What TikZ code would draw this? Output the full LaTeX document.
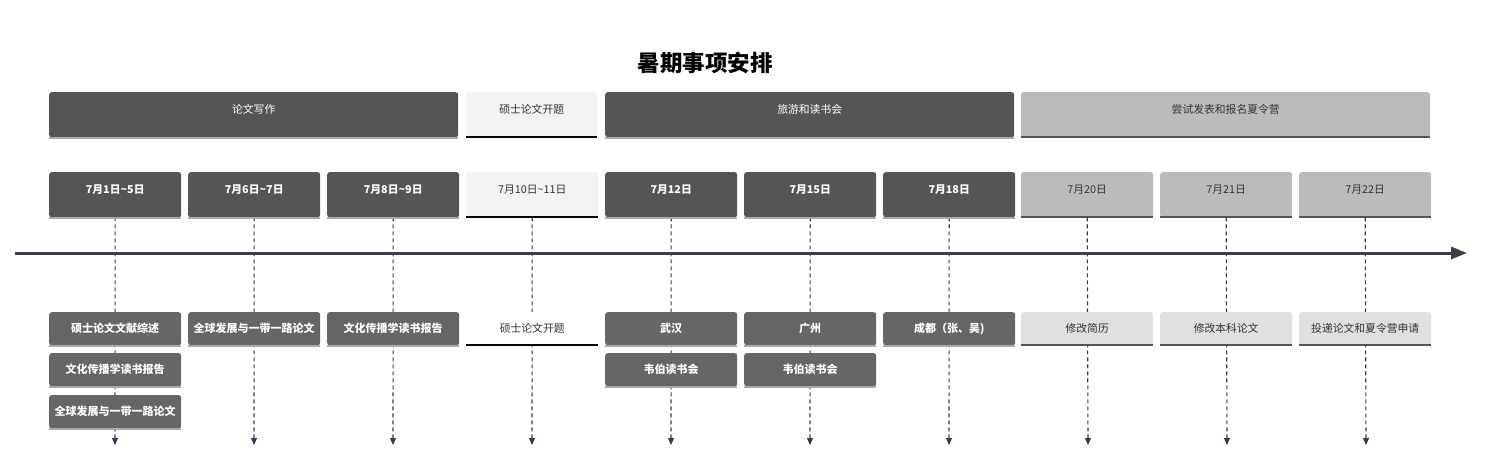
\documentclass[tikz,border=0pt]{standalone}
\usepackage{fontspec}
\setmainfont{Noto Sans CJK SC}
\usetikzlibrary{arrows.meta}
\definecolor{dk}{HTML}{555555}
\definecolor{md}{HTML}{666666}
\definecolor{gy}{HTML}{BBBBBB}
\definecolor{lt}{HTML}{F3F3F3}
\definecolor{lg}{HTML}{E0E0E0}
\definecolor{ax}{HTML}{333D4F}
\definecolor{axl}{HTML}{3A3F4A}
\definecolor{txt}{HTML}{333333}
\definecolor{shd}{HTML}{AAAAAA}
\pgfdeclarelayer{bg}
\pgfsetlayers{bg,main}
\tikzset{
  box/.style={draw=none, rounded corners=2.5pt, inner xsep=0pt, inner ysep=0pt,
    anchor=north west, font=\fontsize{10.8}{12}\selectfont},
  tall/.style={text height=21pt, text depth=24pt},
  short/.style={text height=20.5pt, text depth=12.5pt},
  wgrp/.style={box, tall, minimum width=409pt},
  wone/.style={box, minimum width=132pt},
  darkbox/.style={fill=dk, text=white},
  midbox/.style={fill=md, text=white, font=\fontsize{11}{12}\selectfont\bfseries},
  graybox/.style={fill=gy, text=txt},
  litebox/.style={fill=lt, text=txt},
  whitebox/.style={fill=white, text=txt},
  lgbox/.style={fill=lg, text=txt},
  shadowbar/.style={draw=shd, line width=2pt},
  blackbar/.style={draw=black, line width=2pt},
  greybar/.style={draw=dk, line width=2pt},
  vline/.style={draw=ax, line width=1.1pt, dash pattern=on 4pt off 3pt,
    -{Triangle[length=7pt,width=6pt]}},
  axis/.style={draw=axl, line width=3pt, -{Triangle[length=16pt,width=12pt,fill=ax]}},
  bolddate/.style={font=\fontsize{10.8}{12}\selectfont\bfseries},
}
\begin{document}
\begin{tikzpicture}[x=1pt,y=-1pt]
\useasboundingbox (0,0) rectangle (1492,464);

% title
\node[font=\fontsize{22.5}{26}\selectfont\bfseries, text=black] (title) at (705,63) {暑期事项安排};

% group row
\node[wgrp, darkbox] (g1) at (49,92) {论文写作};
\node[box, tall, minimum width=131pt, litebox] (g2) at (466,92) {硕士论文开题};
\node[wgrp, darkbox] (g3) at (605,92) {旅游和读书会};
\node[wgrp, graybox] (g4) at (1021,92) {尝试发表和报名夏令营};

% date row
\node[wone, tall, darkbox, bolddate] (d1) at (49,172) {7月1日\textasciitilde5日};
\node[wone, tall, darkbox, bolddate] (d2) at (188,172) {7月6日\textasciitilde7日};
\node[wone, tall, darkbox, bolddate] (d3) at (327,172) {7月8日\textasciitilde9日};
\node[wone, tall, litebox] (d4) at (466,172) {7月10日\textasciitilde11日};
\node[wone, tall, darkbox, bolddate] (d5) at (605,172) {7月12日};
\node[wone, tall, darkbox, bolddate] (d6) at (744,172) {7月15日};
\node[wone, tall, darkbox, bolddate] (d7) at (883,172) {7月18日};
\node[wone, tall, graybox] (d8) at (1021,172) {7月20日};
\node[wone, tall, graybox] (d9) at (1160,172) {7月21日};
\node[wone, tall, graybox] (d10) at (1299,172) {7月22日};

% task rows
\node[wone, short, midbox] (t1a) at (49,312) {硕士论文文献综述};
\node[wone, short, midbox] (t1b) at (49,353) {文化传播学读书报告};
\node[wone, short, midbox] (t1c) at (49,395) {全球发展与一带一路论文};
\node[wone, short, midbox] (t2a) at (188,312) {全球发展与一带一路论文};
\node[wone, short, midbox] (t3a) at (327,312) {文化传播学读书报告};
\node[wone, short, whitebox] (t4a) at (466,312) {硕士论文开题};
\node[wone, short, midbox] (t5a) at (605,312) {武汉};
\node[wone, short, midbox] (t5b) at (605,353) {韦伯读书会};
\node[wone, short, midbox] (t6a) at (744,312) {广州};
\node[wone, short, midbox] (t6b) at (744,353) {韦伯读书会};
\node[wone, short, midbox] (t7a) at (883,312) {成都（张、吴)};
\node[wone, short, lgbox] (t8a) at (1021,312) {修改简历};
\node[wone, short, lgbox] (t9a) at (1160,312) {修改本科论文};
\node[wone, short, lgbox] (t10a) at (1299,312) {投递论文和夏令营申请};

% bottom bars
\foreach \n in {g1,g3,d1,d2,d3,d5,d6,d7,t1a,t1b,t1c,t2a,t3a,t5a,t5b,t6a,t6b,t7a}
  \draw[shadowbar] ([yshift=-1pt]\n.south west) -- ([yshift=-1pt]\n.south east);
\foreach \n in {g2,d4,t4a}
  \draw[blackbar] (\n.south west) -- (\n.south east);
\foreach \n in {g4,d8,d9,d10,t8a,t9a,t10a}
  \draw[greybar] (\n.south west) -- (\n.south east);

% end points
\coordinate (axL) at (15,253);
\coordinate (axR) at (1467,253);
\foreach \i/\x in {1/115,2/254,3/393,4/532,5/671,6/810,7/949,8/1088,9/1227,10/1366}
  \coordinate (e\i) at (\x,445);

\begin{pgfonlayer}{bg}
  \foreach \i in {1,...,10}
    \draw[vline] (d\i.south) -- (e\i);
  \draw[axis] (axL) -- (axR);
\end{pgfonlayer}
\end{tikzpicture}
\end{document}
